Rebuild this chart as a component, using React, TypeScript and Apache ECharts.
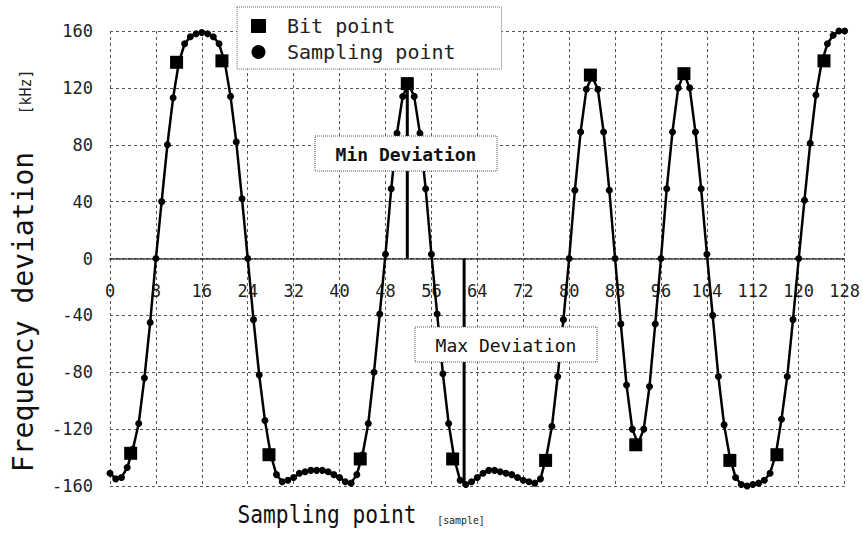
import React, { useEffect, useRef } from "react";
import * as echarts from "echarts";

// Frequency deviation [kHz] at each sampling point 0..128
const samplingValues = [
  -151, -155, -154, -147, -134, -116, -84, -45, 0, 40,
  80, 113, 138, 151, 156, 158, 159, 158, 156, 151,
  138, 114, 82, 42, 0, -43, -82, -114, -138, -152,
  -157, -156, -154, -151, -150, -149, -149, -149, -150, -152,
  -154, -157, -158, -152, -138, -116, -80, -39, 3, 49,
  88, 114, 123, 114, 88, 49, 3, -39, -81, -116,
  -141, -156, -159, -157, -154, -151, -149, -149, -150, -151,
  -152, -154, -156, -157, -158, -155, -140, -118, -83, -43,
  0, 48, 89, 119, 128, 119, 89, 48, 0, -46,
  -89, -120, -130, -120, -90, -46, 0, 49, 89, 120,
  130, 120, 89, 49, 3, -40, -83, -117, -140, -154,
  -159, -160, -159, -158, -156, -151, -138, -113, -83, -43,
  0, 41, 81, 115, 138, 151, 157, 160, 160,
];

// Bit points (sample position, deviation)
const bitX = [3.6, 11.6, 19.5, 27.7, 43.6, 51.8, 59.7, 75.9, 83.7, 91.6, 100.0, 108.0, 116.2, 124.4];
const bitY = [-137, 138, 139, -138, -141, 123, -141, -142, 129, -131, 130, -142, -138, 139];

// Deviation markers
const minDevX = 51.8;
const minDevY = [0, 123];
const maxDevX = 61.7;
const maxDevY = [0, -160];

const xTickInterval = 8;
const yTickInterval = 40;

const MONO = '"DejaVu Sans Mono", "Liberation Mono", monospace';

const GRID_TOP = 31;
const GRID_BOTTOM = 50;
const CHART_H = 536;

export default function App() {
  const ref = useRef<HTMLDivElement>(null);

  useEffect(() => {
    if (!ref.current) return;
    const chart = echarts.init(ref.current, undefined, { renderer: "svg" });

    const samplingData = samplingValues.map((v, i) => [i, v]);
    const bitData = bitX.map((x, i) => [x, bitY[i]]);
    const minLine = minDevY.map((y) => [minDevX, y]);
    const maxLine = maxDevY.map((y) => [maxDevX, y]);

    const gridLine = { lineStyle: { color: "#555", type: [3, 3], width: 1 } };
    const plotH = CHART_H - GRID_TOP - GRID_BOTTOM;

    chart.setOption({
      animation: false,
      backgroundColor: "#fff",
      grid: { left: 110, right: 17, top: GRID_TOP, bottom: GRID_BOTTOM },
      xAxis: {
        type: "value",
        min: 0,
        max: 128,
        interval: xTickInterval,
        // move the axis (line + labels) up to the y = 0 level (middle of the symmetric range)
        offset: -plotH / 2,
        axisLine: { onZero: false, lineStyle: { color: "#222", type: "dotted", width: 1.5 } },
        axisTick: { show: false },
        axisLabel: { margin: 24, fontFamily: MONO, fontSize: 17, color: "#222" },
        splitLine: gridLine,
      },
      yAxis: {
        type: "value",
        min: -160,
        max: 160,
        interval: yTickInterval,
        axisLine: { show: false },
        axisTick: { show: false },
        axisLabel: { margin: 17, fontFamily: MONO, fontSize: 17, color: "#222" },
        splitLine: gridLine,
      },
      legend: {
        left: 237,
        top: 7,
        orient: "vertical",
        backgroundColor: "#fff",
        borderColor: "#666",
        borderWidth: 1,
        borderType: "dotted",
        padding: [9, 46, 7, 14],
        itemGap: 6,
        itemWidth: 15,
        itemHeight: 14,
        itemStyle: { opacity: 1 },
        textStyle: { fontFamily: MONO, fontSize: 20, lineHeight: 20, color: "#222", padding: [0, 0, 0, 16] },
        data: [
          { name: "Bit point", icon: "rect" },
          { name: "Sampling point", icon: "circle" },
        ],
      },
      series: [
        {
          name: "Sampling point",
          type: "line",
          data: samplingData,
          symbol: "circle",
          symbolSize: 7,
          lineStyle: { color: "#000", width: 2.5 },
          itemStyle: { color: "#000", opacity: 1 },
          z: 3,
        },
        {
          name: "Bit point",
          type: "scatter",
          data: bitData,
          symbol: "rect",
          symbolSize: 13,
          itemStyle: { color: "#000", opacity: 1 },
          z: 4,
        },
        {
          name: "minDev",
          type: "line",
          data: minLine,
          symbol: "none",
          lineStyle: { color: "#000", width: 3 },
          z: 3,
          silent: true,
        },
        {
          name: "maxDev",
          type: "line",
          data: maxLine,
          symbol: "none",
          lineStyle: { color: "#000", width: 3 },
          z: 3,
          silent: true,
        },
      ],
      graphic: [
        {
          type: "text",
          x: 23,
          y: 312,
          rotation: Math.PI / 2,
          style: {
            text: "Frequency deviation",
            fontFamily: MONO,
            fontSize: 28,
            fill: "#111",
            align: "center",
            verticalAlign: "middle",
          },
        },
        {
          type: "text",
          x: 26,
          y: 92,
          rotation: Math.PI / 2,
          style: {
            text: "[kHz]",
            fontFamily: MONO,
            fontSize: 15,
            fill: "#222",
            align: "center",
            verticalAlign: "middle",
          },
        },
        {
          type: "text",
          x: 327,
          y: 514,
          scaleX: 0.85,
          style: {
            text: "Sampling point",
            fontFamily: MONO,
            fontSize: 25,
            fill: "#111",
            align: "center",
            verticalAlign: "middle",
          },
        },
        {
          type: "text",
          x: 461,
          y: 520,
          scaleX: 0.9,
          style: {
            text: "[sample]",
            fontFamily: MONO,
            fontSize: 11,
            fill: "#222",
            align: "center",
            verticalAlign: "middle",
          },
        },
        {
          type: "rect",
          z: 100,
          shape: { x: 315, y: 136, width: 182, height: 35 },
          style: { fill: "#fff", stroke: "#555", lineWidth: 1, lineDash: [1, 1] },
        },
        {
          type: "text",
          z: 101,
          x: 406,
          y: 154,
          style: {
            text: "Min Deviation",
            fontFamily: MONO,
            fontSize: 18,
            fontWeight: "bold",
            fill: "#111",
            align: "center",
            verticalAlign: "middle",
          },
        },
        {
          type: "rect",
          z: 100,
          shape: { x: 415, y: 327, width: 182, height: 35 },
          style: { fill: "#fff", stroke: "#555", lineWidth: 1, lineDash: [1, 1] },
        },
        {
          type: "text",
          z: 101,
          x: 506,
          y: 345,
          style: {
            text: "Max Deviation",
            fontFamily: MONO,
            fontSize: 18,
            fill: "#111",
            align: "center",
            verticalAlign: "middle",
          },
        },
      ],
    });

    return () => chart.dispose();
  }, []);

  return (
    <div
      ref={ref}
      style={{ position: "absolute", left: 0, top: 0, width: 863, height: CHART_H }}
    />
  );
}
